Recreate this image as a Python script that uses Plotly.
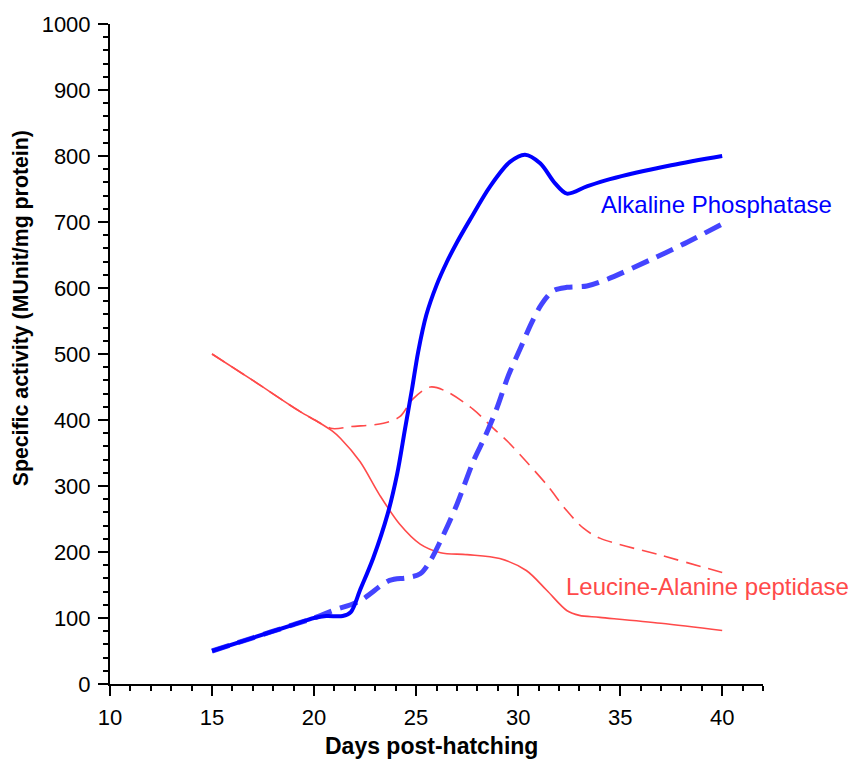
import plotly.graph_objects as go

# ---- data ----
ap_solid_days = [15, 17, 19, 20, 20.6, 21.4, 21.8, 22.25, 22.9, 23.6, 24.07, 24.46, 24.8, 25.1, 25.5, 26.0,
                 26.5, 27.0, 27.65, 28.63, 29.6, 30.34, 31.08, 31.8, 32.39, 33.37, 34.5, 37.5, 40]
ap_solid_vals = [50, 70, 90, 100, 103, 103, 109, 142, 191, 257, 318, 387, 447, 503, 559, 604,
                 639, 669, 704, 754, 791, 802, 789, 759, 743, 754, 765, 786, 800]

ap_dash_days = [15, 17, 19, 20, 20.9, 22.25, 23.7, 24.55, 25.2, 25.7, 26.2, 27.0, 27.8, 28.38, 28.96, 29.53,
                30.1, 30.67, 31.16, 31.73, 32.39, 33.37, 34.35, 36.5, 38, 40]
ap_dash_vals = [50, 70, 90, 100, 111, 126, 157, 161, 167, 187, 217, 272, 337, 375, 418, 468,
                508, 548, 576, 596, 601, 603, 613, 643, 665, 697]

lap_solid_days = [15, 17, 19.3, 20.2, 20.9, 21.3, 22.25, 23.2, 24.2, 25.2, 26.2, 27.5, 29.1, 30.4, 31.4,
                  32.4, 33.0, 34.0, 37, 40]
lap_solid_vals = [500, 460, 413, 397, 383, 372, 337, 287, 242, 212, 199, 196, 190, 172, 142,
                  111, 104, 101, 92, 81]

lap_dash_days = [15, 17, 19.3, 20.2, 20.9, 21.8, 23.4, 24.2, 24.85, 25.7, 26.5, 27.8, 28.8, 29.5, 30.4,
                 31.4, 32.4, 33.2, 34.0, 37, 40]
lap_dash_vals = [500, 460, 413, 397, 387, 390, 395, 405, 432, 450, 443, 416, 387, 367, 337,
                 302, 262, 236, 221, 195, 169]

x_ticks = [10, 15, 20, 25, 30, 35, 40]
y_ticks = [0, 100, 200, 300, 400, 500, 600, 700, 800, 900, 1000]

BLUE = "#0000FF"
BLUE_D = "#4444FF"
RED = "#FF4A4A"
FONT = "Liberation Sans, Arial, sans-serif"

fig = go.Figure()
fig.add_trace(go.Scatter(x=lap_dash_days, y=lap_dash_vals, mode="lines",
                         line=dict(color=RED, width=1.6, dash="15px,8px", shape="spline", smoothing=0.9)))
fig.add_trace(go.Scatter(x=lap_solid_days, y=lap_solid_vals, mode="lines",
                         line=dict(color=RED, width=1.6, shape="spline", smoothing=0.9)))
fig.add_trace(go.Scatter(x=ap_dash_days, y=ap_dash_vals, mode="lines",
                         line=dict(color=BLUE_D, width=5, dash="18px,9px", shape="spline", smoothing=0.9)))
fig.add_trace(go.Scatter(x=ap_solid_days, y=ap_solid_vals, mode="lines",
                         line=dict(color=BLUE, width=4, shape="spline", smoothing=0.9)))

fig.add_annotation(x=33.97, y=726, xref="x", yref="y", text="Alkaline Phosphatase", showarrow=False,
                   xanchor="left", yanchor="middle", font=dict(family=FONT, size=24, color=BLUE))
fig.add_annotation(x=32.25, y=147, xref="x", yref="y", text="Leucine-Alanine peptidase", showarrow=False,
                   xanchor="left", yanchor="middle", font=dict(family=FONT, size=24, color=RED))

fig.add_annotation(x=-0.135, y=0.569, xref="paper", yref="paper", text="<b>Specific activity (MUnit/mg protein)</b>",
                   showarrow=False, textangle=-90, xanchor="center", yanchor="middle",
                   font=dict(family=FONT, size=21.3, color="black"))
fig.add_annotation(x=0.4916, y=-0.0934, xref="paper", yref="paper", text="<b>Days post-hatching</b>",
                   showarrow=False, xanchor="center", yanchor="middle",
                   font=dict(family=FONT, size=23, color="black"))

axis_common = dict(showgrid=False, zeroline=False, showline=True, linecolor="black", linewidth=2,
                   ticks="outside", tickcolor="black", tickwidth=2, ticklen=10,
                   tickfont=dict(family=FONT, size=22, color="black"))

fig.update_xaxes(range=[10, 42], tickvals=x_ticks, ticktext=[str(v) for v in x_ticks],
                 minor=dict(dtick=1, tick0=10, ticks="outside", ticklen=5, tickwidth=1.5, tickcolor="black"),
                 ticklabelstandoff=3, **axis_common)
fig.update_yaxes(range=[0, 1000], tickvals=y_ticks, ticktext=[str(v) for v in y_ticks],
                 minor=dict(dtick=20, tick0=0, ticks="outside", ticklen=5, tickwidth=1.5, tickcolor="black"),
                 ticklabelstandoff=3, **axis_common)

fig.update_layout(width=849, height=760, margin=dict(l=110, r=86, t=20, b=76),
                  plot_bgcolor="white", paper_bgcolor="white", showlegend=False,
                  font=dict(family=FONT))

fig.write_html("out.html")
